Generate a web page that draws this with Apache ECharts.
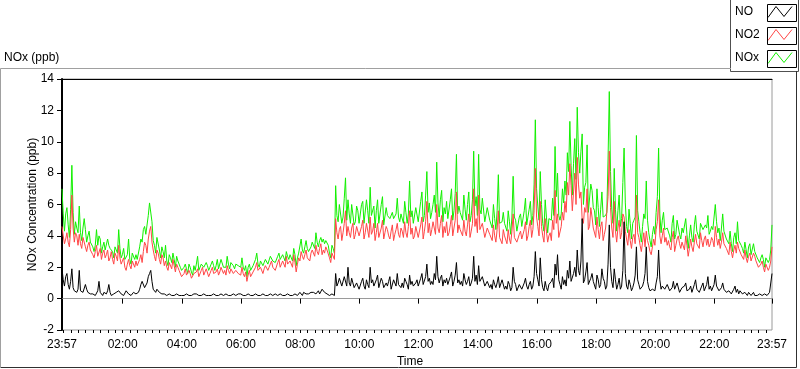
<!DOCTYPE html>
<html>
<head>
<meta charset="utf-8">
<script src="https://cdn.jsdelivr.net/npm/echarts@6/dist/echarts.min.js"></script>
<style>
html,body{margin:0;padding:0;background:#fff;}
#chart{width:800px;height:369px;}
</style>
</head>
<body>
<div id="chart"></div>
<script>
// sample step in minutes from the 23:57 start (one row below = 30 minutes)
const SAMPLE_STEP_MIN = 2.5;

const seriesNames = ['NO', 'NO2', 'NOx'];

const noValues = [
1.9,1.2,0.8,1.4,1.6,0.9,0.6,1.1,1.9,0.7,0.5,0.5,
0.4,0.6,1.8,0.5,0.5,0.4,0.3,0.9,0.6,0.4,0.3,0.3,
0.3,0.3,0.4,0.2,0.2,0.5,1.1,0.4,0.3,0.2,0.4,0.3,
0.3,0.5,0.9,0.4,0.2,0.3,0.3,0.2,0.4,0.3,0.5,0.4,
0.3,0.2,0.2,0.3,0.5,0.4,0.3,0.2,0.2,0.3,0.4,0.3,
0.3,0.2,0.4,0.6,0.9,1.1,1.2,0.7,0.8,1.0,1.4,1.6,
1.8,1.1,0.6,0.5,0.4,0.6,0.7,0.4,0.3,0.3,0.4,0.3,
0.3,0.2,0.2,0.3,0.4,0.2,0.3,0.2,0.2,0.3,0.3,0.2,
0.2,0.2,0.3,0.2,0.2,0.3,0.2,0.2,0.3,0.2,0.2,0.3,
0.2,0.3,0.3,0.2,0.2,0.2,0.2,0.3,0.3,0.2,0.2,0.2,
0.3,0.2,0.2,0.3,0.2,0.2,0.3,0.2,0.2,0.3,0.2,0.2,
0.2,0.3,0.3,0.2,0.2,0.2,0.2,0.3,0.3,0.2,0.2,0.3,
0.2,0.3,0.2,0.2,0.3,0.2,0.2,0.3,0.2,0.2,0.2,0.2,
0.2,0.3,0.2,0.2,0.3,0.2,0.2,0.3,0.2,0.2,0.3,0.2,
0.2,0.3,0.3,0.2,0.2,0.3,0.3,0.2,0.2,0.3,0.3,0.2,
0.3,0.2,0.2,0.3,0.3,0.2,0.3,0.2,0.2,0.3,0.3,0.2,
0.3,0.4,0.3,0.2,0.4,0.3,0.3,0.4,0.3,0.3,0.4,0.3,
0.4,0.3,0.3,0.4,0.5,0.3,0.4,0.6,0.6,0.4,0.4,0.3,
0.3,0.2,0.2,0.3,0.3,0.2,1.6,0.8,1.0,1.3,1.4,0.8,
0.9,1.4,1.3,0.8,2.0,1.0,0.8,1.3,1.2,0.7,0.7,1.0,
1.0,0.6,0.7,1.1,1.3,0.8,0.6,1.2,0.9,0.7,2.0,1.0,
1.2,0.8,0.7,1.2,1.5,0.7,0.8,1.3,1.1,0.7,0.6,1.0,
0.8,1.1,1.4,0.6,0.7,1.2,1.1,0.8,1.6,0.9,0.9,0.7,
1.0,0.7,1.3,1.1,0.9,0.6,1.5,0.9,1.1,0.8,0.8,1.0,
1.2,0.8,0.9,1.3,1.6,0.9,1.0,1.4,2.2,1.1,1.3,0.9,
1.1,0.9,1.6,1.2,2.7,1.4,1.0,1.3,1.5,0.8,1.2,1.0,
1.3,0.9,1.0,1.4,1.7,0.8,1.1,1.5,2.3,1.0,1.2,0.9,
1.1,0.8,1.6,1.2,0.9,1.1,1.4,0.8,1.0,1.3,2.7,1.1,
1.5,0.9,2.1,1.1,1.0,1.4,1.3,0.8,0.8,1.1,1.2,0.7,
0.9,0.6,1.2,0.9,0.7,1.0,1.4,0.7,0.8,1.2,1.1,0.6,
0.8,0.6,1.1,0.9,0.5,0.7,2.0,1.1,0.9,0.5,0.6,0.9,
1.0,0.6,0.7,1.0,1.3,0.8,0.6,0.9,1.1,0.6,0.8,1.4,
3.0,1.6,1.2,0.8,2.6,1.2,0.7,0.5,1.1,0.7,0.5,0.9,
0.8,1.1,1.3,0.7,2.2,1.5,2.8,1.2,0.9,0.6,1.4,0.9,
1.2,0.8,1.8,1.3,2.4,1.1,1.0,1.6,2.0,1.4,3.1,1.8,
1.5,2.4,5.1,1.0,1.2,1.7,2.3,0.9,0.9,1.3,1.6,1.1,
1.0,0.6,1.5,1.2,0.7,0.9,1.9,1.3,1.1,0.6,0.8,2.2,
4.7,2.0,1.1,0.7,1.9,1.2,0.6,0.9,1.3,0.6,0.8,1.8,
4.9,1.6,0.8,0.6,1.2,0.9,0.5,0.7,1.0,1.5,3.3,1.2,
0.9,0.6,0.5,0.8,1.1,1.6,3.3,1.1,0.7,0.5,0.4,0.6,
0.7,0.5,1.0,1.4,3.1,1.2,0.6,0.8,0.9,0.6,0.5,0.9,
0.8,0.5,0.4,0.7,1.1,0.6,0.6,1.0,0.9,0.4,0.5,0.7,
0.6,0.8,1.0,0.5,0.4,0.6,0.8,0.4,0.5,0.9,1.2,0.6,
0.7,0.4,0.5,0.8,1.0,0.5,0.6,0.9,1.4,0.6,0.8,0.5,
0.6,0.9,1.5,0.8,0.7,0.5,0.4,0.7,1.0,0.6,0.5,0.4,
0.4,0.5,0.6,0.3,0.3,0.6,0.8,0.4,0.6,0.3,0.5,0.4,
0.3,0.2,0.4,0.3,0.2,0.4,0.5,0.2,0.3,0.4,0.2,0.3,
0.2,0.3,0.3,0.2,0.2,0.3,0.3,0.2,0.2,0.3,0.4,0.5,
1.6
];

const no2Values = [
4.6,4.0,3.5,3.8,4.2,3.6,3.3,4.4,6.6,4.5,3.6,4.2,
4.0,3.4,4.1,3.5,3.2,3.9,3.8,3.3,3.0,3.4,3.6,3.1,
3.2,2.8,2.6,3.0,3.4,2.7,2.8,3.2,2.5,2.9,3.1,2.6,
2.8,3.1,2.4,2.6,3.0,2.5,2.2,2.9,2.7,2.4,3.4,2.6,
2.2,2.4,2.6,2.0,1.8,2.2,2.5,2.1,1.9,2.4,2.3,2.0,
2.4,2.1,2.0,2.5,2.8,2.3,3.0,3.6,3.4,2.9,3.8,4.3,
4.6,3.6,3.1,2.7,2.4,3.1,2.9,2.5,2.2,2.8,2.6,2.1,
2.4,2.0,1.8,2.3,2.2,1.9,2.5,2.1,1.7,2.2,2.0,1.8,
1.7,1.4,1.3,1.6,1.9,1.5,1.4,1.8,1.6,1.3,1.2,1.6,
1.5,1.7,1.9,1.4,1.4,1.8,2.0,1.5,1.6,1.9,1.8,1.4,
1.6,1.8,2.0,1.6,1.5,1.7,1.9,1.5,1.7,2.0,2.1,1.6,
1.8,1.5,2.1,1.8,1.6,1.9,2.0,1.6,1.5,1.8,1.9,1.6,
1.7,1.5,2.0,1.6,1.4,1.7,1.1,1.5,1.8,1.4,1.5,1.7,
1.8,2.0,2.3,1.8,1.7,2.0,2.1,1.6,1.9,2.1,2.2,1.8,
2.0,2.2,2.4,2.0,2.1,1.8,1.9,2.3,2.5,2.0,2.2,2.4,
2.3,2.0,2.7,2.2,2.1,2.4,2.5,2.0,2.8,2.3,1.7,2.2,
2.6,2.4,3.0,2.7,2.5,2.8,3.1,2.6,2.7,2.4,2.9,3.1,
3.0,2.7,3.4,3.0,2.8,3.2,3.5,2.8,3.1,2.9,3.3,3.1,
3.0,2.6,2.3,2.9,2.8,2.5,5.1,4.2,3.8,4.4,4.6,3.7,
4.2,4.8,5.6,4.0,4.6,4.2,3.9,4.5,4.8,3.8,4.1,4.6,
4.5,4.0,3.9,4.6,5.0,3.8,4.2,4.8,4.7,3.9,5.2,4.1,
4.3,4.8,3.7,4.2,4.8,3.9,4.0,4.5,5.0,3.8,4.2,4.6,
4.4,4.0,3.8,4.3,4.7,3.7,4.1,4.4,4.8,4.1,3.9,4.5,
4.3,3.9,4.9,4.2,3.9,4.6,5.6,4.1,4.5,3.8,4.0,4.6,
4.6,3.9,4.0,4.7,5.2,3.8,4.3,4.9,6.2,4.2,4.8,4.0,
4.4,4.9,5.0,4.1,6.0,4.5,4.2,4.8,5.3,3.9,4.6,4.2,
4.9,4.0,4.2,4.7,5.3,4.0,4.5,5.0,6.8,4.2,4.7,4.4,
4.5,4.0,5.0,4.3,4.0,4.7,5.4,3.9,4.3,4.8,7.0,4.6,
5.1,4.2,6.6,4.4,4.3,4.8,4.9,3.9,4.0,4.5,4.6,4.1,
4.2,3.7,4.7,4.0,3.6,4.4,5.6,3.9,3.8,3.5,4.4,4.0,
3.9,3.5,4.4,3.8,3.5,4.3,5.4,3.9,4.0,3.6,3.6,4.1,
4.3,3.8,3.8,4.4,4.9,3.7,4.0,4.6,5.0,3.9,4.4,5.6,
8.3,5.2,4.6,4.0,6.2,4.6,4.0,3.6,5.1,4.3,3.6,4.0,
4.2,3.7,5.0,4.4,6.9,4.8,5.4,3.9,4.0,4.6,5.5,5.0,
6.2,5.5,7.4,6.6,8.6,7.2,5.6,6.8,8.0,6.0,9.0,7.3,
6.4,6.8,5.0,4.8,5.8,5.5,7.0,4.4,4.6,5.8,5.2,4.5,
4.4,3.9,5.2,4.4,3.8,4.6,4.9,3.7,4.1,4.5,4.6,6.5,
9.4,5.8,4.5,3.9,6.2,4.3,3.6,4.5,5.0,3.8,4.2,5.4,
5.2,4.3,3.8,3.4,4.4,3.7,3.2,3.9,4.1,3.5,6.6,4.2,
3.9,3.4,3.0,3.6,4.2,3.3,4.3,3.7,3.4,3.0,2.8,3.3,
3.8,3.4,4.4,4.9,6.3,4.0,3.5,4.0,4.5,3.6,3.9,3.4,
3.7,3.3,3.1,3.9,4.3,3.0,3.4,3.8,4.0,3.5,3.2,3.6,
3.5,3.1,4.0,3.4,2.7,3.2,3.8,3.3,3.0,3.6,4.1,3.5,
3.6,3.2,4.2,3.7,3.3,3.8,4.0,3.4,3.8,3.3,3.5,3.9,
3.7,3.3,4.6,3.9,3.4,3.8,3.2,3.6,4.2,3.5,3.6,3.2,
3.2,2.8,3.6,3.0,2.6,3.1,3.4,2.9,3.6,3.2,3.1,2.8,
2.8,2.5,3.1,2.6,2.3,2.7,2.9,2.4,2.5,2.9,2.7,2.4,
2.3,2.0,1.9,2.2,2.4,2.0,1.7,2.2,2.1,1.8,2.0,2.4,
3.3
];

const noxValues = [
7.0,5.4,4.3,5.4,5.8,4.7,3.9,5.7,8.5,5.5,4.1,4.9,
4.5,4.2,5.9,4.2,3.7,4.5,5.1,4.4,3.6,4.0,4.3,3.6,
3.6,3.3,3.0,3.4,4.4,3.4,4.0,3.8,2.9,3.3,3.6,3.1,
3.2,3.8,3.4,3.2,3.3,3.0,2.6,3.3,3.1,2.9,4.4,3.2,
2.6,2.8,3.2,2.5,2.4,2.8,3.8,2.5,2.2,2.9,2.8,2.5,
2.8,2.5,2.5,3.3,3.8,3.6,4.4,4.6,4.1,4.1,5.3,6.1,
6.1,4.9,3.7,3.4,2.9,3.9,3.8,3.1,2.6,3.3,3.0,2.6,
3.4,2.4,2.1,2.8,2.6,2.3,2.9,2.5,2.0,2.7,2.4,2.2,
2.0,1.8,1.7,2.0,2.2,1.9,1.6,2.2,2.0,1.7,1.5,2.1,
1.8,2.2,2.7,1.8,1.7,2.2,2.3,2.0,1.9,2.3,2.1,1.8,
2.0,2.2,2.4,2.1,1.8,2.1,2.5,1.9,2.0,2.5,2.4,2.0,
2.1,2.0,2.7,2.2,1.9,2.3,2.4,2.1,1.9,2.2,2.2,2.1,
2.0,2.0,2.6,2.0,1.8,2.1,1.4,2.0,2.2,1.8,1.9,2.1,
2.2,2.5,2.9,2.2,2.0,2.4,2.4,2.1,2.3,2.5,2.6,2.2,
2.3,2.7,2.8,2.4,2.4,2.3,2.2,2.7,2.9,2.5,2.5,2.8,
2.6,2.4,3.0,2.7,2.5,2.8,2.9,2.4,3.2,2.8,2.1,2.6,
2.9,3.0,3.8,3.1,2.9,3.3,3.7,3.2,3.0,2.9,3.3,3.6,
3.5,3.2,4.2,3.6,3.3,3.7,3.9,3.6,3.8,3.5,3.7,3.6,
3.4,2.9,2.6,3.4,3.2,2.9,7.2,5.3,4.9,6.0,6.0,4.8,
5.2,6.4,7.7,5.0,6.3,5.4,4.8,6.0,6.0,4.7,4.9,5.9,
5.6,4.8,4.7,6.0,6.2,4.8,4.9,6.3,5.6,4.8,7.1,5.3,
5.4,5.9,4.5,5.6,6.3,4.8,4.9,6.0,6.5,4.7,4.8,5.8,
5.3,5.3,5.1,5.1,5.5,5.1,5.2,5.4,6.4,5.2,4.9,5.4,
5.4,4.8,6.2,5.5,4.8,5.4,7.5,5.2,5.6,4.8,4.9,5.8,
5.8,4.9,5.0,6.2,6.8,4.9,5.3,6.6,8.1,5.5,6.1,5.1,
5.5,6.0,6.6,5.5,8.7,6.1,5.2,6.3,6.9,4.9,5.8,5.4,
6.2,5.1,5.2,6.3,7.0,5.0,5.6,6.7,9.2,5.4,5.9,5.5,
5.6,5.0,6.6,5.7,5.0,6.0,6.8,4.9,5.3,6.3,9.4,5.9,
6.5,5.3,9.2,5.7,5.4,6.4,6.3,4.9,4.9,5.8,5.8,5.0,
5.1,4.5,6.0,5.1,4.4,5.6,7.9,4.8,4.7,4.9,5.5,4.8,
4.8,4.3,5.6,4.9,4.1,5.2,7.8,5.2,5.0,4.3,4.3,5.2,
5.4,4.6,4.6,5.6,6.4,4.7,4.7,5.7,6.2,4.7,5.3,7.3,
11.4,7.0,5.9,5.0,8.1,6.0,4.8,4.3,6.3,5.2,4.2,5.1,
5.1,5.0,6.4,5.3,9.7,6.5,8.0,5.3,5.0,5.4,7.0,6.1,
7.5,6.6,9.3,8.1,11.3,8.5,6.6,8.6,10.2,7.6,12.2,9.3,
8.0,9.4,10.5,6.0,7.1,7.4,9.8,5.5,5.6,7.3,6.9,5.8,
5.6,4.7,7.0,5.8,4.6,5.7,6.8,5.2,5.3,5.3,5.5,8.9,
13.2,8.1,5.7,4.8,8.3,5.7,4.3,5.6,6.6,4.6,5.1,7.4,
9.6,6.1,4.6,4.2,5.7,4.8,3.8,4.8,5.0,5.2,10.4,5.6,
4.9,4.2,3.6,4.6,5.4,5.1,7.5,5.0,4.2,3.7,3.3,4.1,
4.6,4.1,5.5,6.5,9.6,5.4,4.2,5.0,5.5,4.4,4.5,4.5,
4.6,4.0,3.6,4.8,5.3,3.8,4.1,5.0,5.0,4.1,3.8,4.5,
4.2,4.1,5.1,4.1,3.2,4.0,4.7,3.9,3.6,4.7,5.3,4.3,
4.4,3.8,4.8,4.7,4.4,4.5,4.7,4.5,5.3,4.1,4.3,4.6,
4.4,4.4,6.0,4.9,4.2,4.5,3.7,4.5,5.4,4.3,4.2,3.8,
3.7,3.5,4.3,3.5,3.0,3.9,4.2,3.5,4.9,3.7,3.7,3.4,
3.2,2.9,3.6,3.1,2.6,3.3,3.5,2.8,2.9,3.5,3.0,2.9,
2.6,2.5,2.3,2.6,2.8,2.5,2.0,2.6,2.5,2.3,2.5,3.1,
4.7
];

// x-axis labelled ticks (minutes after the 23:57 start) and their labels
const xTickMinutes = [0, 123, 243, 363, 483, 603, 723, 843, 963, 1083, 1203, 1323, 1440];
const xTickLabels = ['23:57', '02:00', '04:00', '06:00', '08:00', '10:00', '12:00', '14:00', '16:00', '18:00', '20:00', '22:00', '23:57'];
// minor ticks every 15 minutes on the clock (00:00 is 3 minutes after start)
const xMinorTicks = [];
for (let m = 3; m < 1440; m += 15) xMinorTicks.push(m);

const yMin = -2, yMax = 14, yStep = 2;

const FONT = '"Liberation Sans", Arial, sans-serif';
const colors = {NO: '#000000', NO2: '#ff4646', NOx: '#12f000'};

function toPairs(arr) { return arr.map((v, i) => [i * SAMPLE_STEP_MIN, v]); }

const chart = echarts.init(document.getElementById('chart'), null, {renderer: 'canvas'});

chart.setOption({
  animation: false,
  backgroundColor: '#fff',
  textStyle: {fontFamily: FONT},
  title: {
    text: 'NOx (ppb)', left: 4, top: 52, padding: 0,
    textStyle: {fontSize: 12, fontWeight: 'normal', color: '#000', fontFamily: FONT}
  },
  grid: {left: 62, right: 28, top: 79, bottom: 39, outerBoundsMode: 'none', containLabel: false,
    show: true, borderColor: '#9a9a9a', borderWidth: 1, backgroundColor: '#fff'},
  legend: {
    data: [
      {name: 'NO', itemStyle: {borderColor: colors.NO}},
      {name: 'NO2', itemStyle: {borderColor: colors.NO2}},
      {name: 'NOx', itemStyle: {borderColor: colors.NOx}}
    ],
    orient: 'vertical', left: 735, top: 5, itemGap: 9, align: 'right',
    itemWidth: 24, itemHeight: 11, padding: 0,
    icon: 'path://M0,11L8,0L16,10L24,0',
    itemStyle: {color: 'transparent', borderWidth: 1},
    formatter: function (name) { return '{t|' + name + '}'; },
    textStyle: {fontSize: 12, color: '#000', fontFamily: FONT, lineHeight: 14,
      rich: {t: {width: 28, align: 'left', fontSize: 12, color: '#000', fontFamily: FONT, lineHeight: 14}}},
    selectedMode: false
  },
  xAxis: [
    {
      type: 'value', min: 0, max: 1440, position: 'bottom',
      axisLine: {show: true, lineStyle: {color: '#9a9a9a', width: 1}},
      axisTick: {show: true, customValues: xTickMinutes, length: 5, lineStyle: {color: '#000'}},
      axisLabel: {show: true, customValues: xTickMinutes, margin: 9, color: '#000', fontSize: 12, fontFamily: FONT,
        formatter: function (v) { const k = xTickMinutes.indexOf(Math.round(v)); return k >= 0 ? xTickLabels[k] : ''; }},
      splitLine: {show: false},
      name: 'Time', nameLocation: 'middle', nameGap: 26, nameMoveOverlap: false,
      nameTextStyle: {color: '#000', fontSize: 12, fontFamily: FONT, padding: [0, 14, 0, 0]}
    },
    {
      type: 'value', min: 0, max: 1440, position: 'bottom',
      axisLine: {show: false},
      axisTick: {show: true, customValues: xMinorTicks, length: 3, lineStyle: {color: '#000'}},
      axisLabel: {show: false},
      splitLine: {show: false}
    },
    {
      type: 'value', min: 0, max: 1440, position: 'top',
      axisLine: {show: true, lineStyle: {color: '#000', width: 1}},
      axisTick: {show: false}, axisLabel: {show: false}, splitLine: {show: false}
    }
  ],
  yAxis: [
    {
      type: 'value', min: yMin, max: yMax, interval: yStep, position: 'left',
      axisLine: {show: true, lineStyle: {color: '#000', width: 2}},
      axisTick: {show: true, length: 5, lineStyle: {color: '#000'}},
      axisLabel: {color: '#000', fontSize: 12, margin: 8, fontFamily: FONT},
      splitLine: {show: false},
      name: 'NOx Concentration (ppb)', nameLocation: 'middle', nameGap: 23, nameRotate: 90, nameMoveOverlap: false,
      nameTextStyle: {color: '#000', fontSize: 12, fontFamily: FONT}
    }
  ],
  series: [
    {name: 'NOx', type: 'line', data: toPairs(noxValues), xAxisIndex: 0, yAxisIndex: 0, showSymbol: false, symbol: 'none',
      sampling: null, lineStyle: {color: colors.NOx, width: 1}, itemStyle: {color: colors.NOx}, z: 2},
    {name: 'NO2', type: 'line', data: toPairs(no2Values), xAxisIndex: 0, yAxisIndex: 0, showSymbol: false, symbol: 'none',
      sampling: null, lineStyle: {color: colors.NO2, width: 1}, itemStyle: {color: colors.NO2}, z: 3},
    {name: 'NO', type: 'line', data: toPairs(noValues), xAxisIndex: 0, yAxisIndex: 0, showSymbol: false, symbol: 'none',
      sampling: null, lineStyle: {color: colors.NO, width: 1}, itemStyle: {color: colors.NO}, z: 4}
  ],
  graphic: [
    {type: 'polyline', shape: {points: [[0.5, 367], [0.5, 68.5], [731, 68.5]]}, style: {stroke: '#a0a0a0', fill: null, lineWidth: 1}, silent: true, z: 0},
    {type: 'polyline', shape: {points: [[0.5, 367.5], [796.5, 367.5], [796.5, 71]]}, style: {stroke: '#303030', fill: null, lineWidth: 1}, silent: true, z: 0},
    {type: 'rect', shape: {x: 730.5, y: -0.5, width: 68, height: 72}, style: {stroke: '#505050', fill: '#fff', lineWidth: 1}, silent: true, z: -1},
    {type: 'rect', shape: {x: 767.5, y: 4.5, width: 29, height: 17}, style: {stroke: '#000', fill: null, lineWidth: 1}, silent: true, z: 10},
    {type: 'rect', shape: {x: 767.5, y: 27.5, width: 29, height: 17}, style: {stroke: '#000', fill: null, lineWidth: 1}, silent: true, z: 10},
    {type: 'rect', shape: {x: 767.5, y: 50.5, width: 29, height: 17}, style: {stroke: '#000', fill: null, lineWidth: 1}, silent: true, z: 10}
  ]
});
</script>
</body>
</html>
